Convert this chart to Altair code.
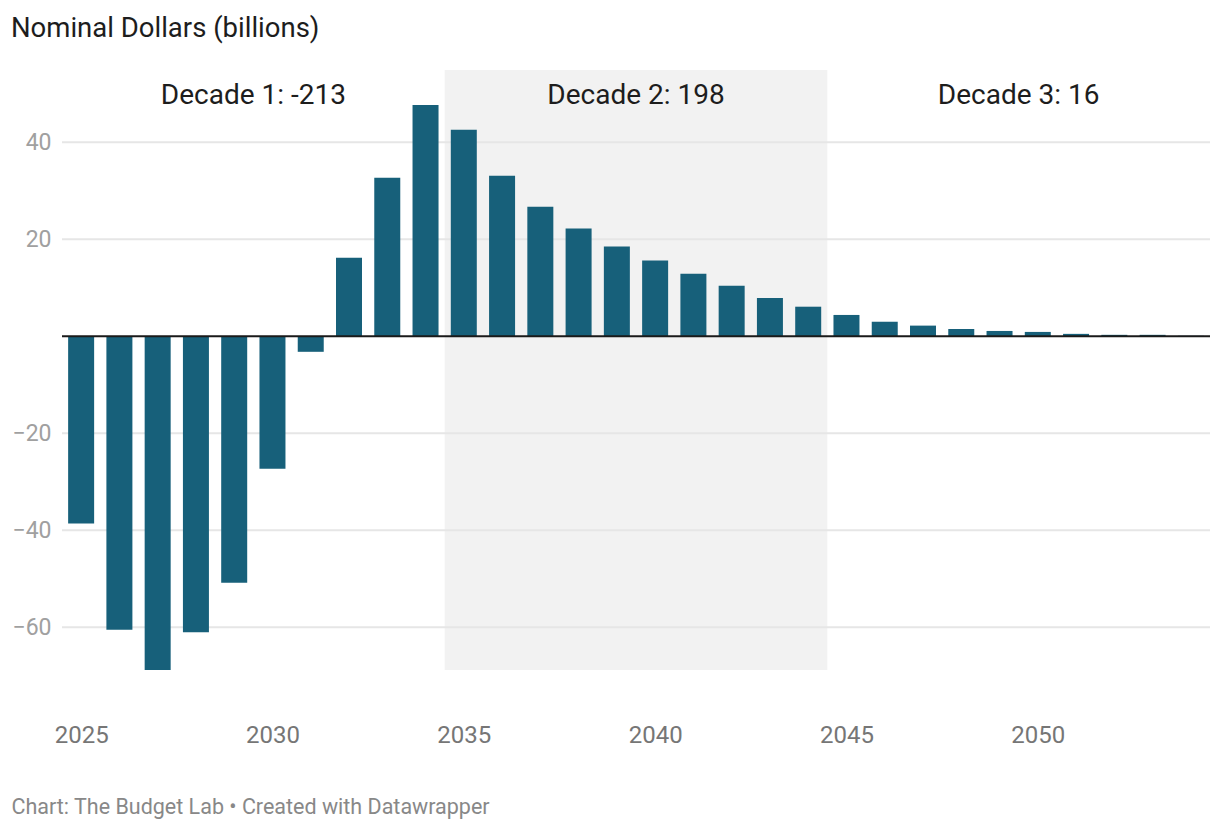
import altair as alt
import pandas as pd

years = list(range(2025, 2055))
values = [-38.6, -60.5, -68.8, -61.0, -50.8, -27.3, -3.2, 16.2, 32.7, 47.7,
          42.6, 33.1, 26.7, 22.2, 18.5, 15.6, 12.9, 10.4, 7.9, 6.1,
          4.4, 3.0, 2.2, 1.5, 1.1, 0.9, 0.5, 0.3, 0.3, 0.1]

decade_labels = ["Decade 1: -213", "Decade 2: 198", "Decade 3: 16"]
decade_start = [2025, 2035, 2045]
decade_end = [2034, 2044, 2054]
shaded = [False, True, False]

y_ticks = [-60, -40, -20, 20, 40]
x_ticks = [2025, 2030, 2035, 2040, 2045, 2050]

bars_df = pd.DataFrame({"year": years, "value": values})
dec_df = pd.DataFrame({"label": decade_labels, "start": decade_start,
                       "end": decade_end, "shaded": shaded})

FONT = "Roboto"
BAR = "#17607a"

xscale = alt.Scale(domain=[2024.5, 2054.5], nice=False, zero=False, padding=0)
yscale = alt.Scale(domain=[-68.8, 54.9], nice=False, zero=False, padding=0)

base_dec = alt.Chart(dec_df).transform_calculate(
    x0="datum.start - 0.5", x1="datum.end + 0.5", mid="(datum.start + datum.end) / 2"
)

shade = base_dec.transform_filter("datum.shaded").mark_rect(color="#f2f2f2").encode(
    x=alt.X("x0:Q", scale=xscale,
            axis=alt.Axis(values=x_ticks, format="d", domain=False, ticks=False, grid=False,
                          labelFontSize=24, labelColor="#767676", labelPadding=53, labelFont=FONT,
                          title="Chart: The Budget Lab • Created with Datawrapper",
                          titleFont=FONT, titleFontSize=21.5, titleColor="#888888",
                          titleFontWeight="normal", titleAnchor="start", titleAlign="left",
                          titleX=-51, titleY=137, titleBaseline="middle")),
    x2="x1:Q",
)

grid = alt.Chart(pd.DataFrame({"t": y_ticks})).mark_rule(color="#e6e6e6", strokeWidth=2).encode(
    y=alt.Y("t:Q", scale=yscale)
)

bars = alt.Chart(bars_df).mark_bar(color=BAR, size=26).encode(
    x=alt.X("year:Q", scale=xscale),
    y=alt.Y("value:Q", scale=yscale,
            axis=alt.Axis(values=y_ticks, domain=False, ticks=False, grid=False,
                          labelFontSize=23, labelColor="#a0a0a0", labelPadding=11, labelFont=FONT,
                          labelExpr="datum.value < 0 ? '\u2212' + format(-datum.value, 'd') : format(datum.value, 'd')",
                          title=None)),
)

zero = alt.Chart(pd.DataFrame({"z": [0]})).mark_rule(color="#1a1a1a", strokeWidth=2).encode(
    y=alt.Y("z:Q", scale=yscale)
)

labels = base_dec.mark_text(font=FONT, fontSize=28, color="#1d1d1d", baseline="alphabetic",
                            align="center").encode(
    x=alt.X("mid:Q", scale=xscale),
    y=alt.value(34),
    text="label:N",
)

chart = alt.layer(shade, grid, bars, zero, labels).properties(
    width=1148, height=600,
    autosize=alt.AutoSizeParams(type="none"),
    padding={"left": 54, "top": 62, "right": 2, "bottom": 156},
    title=alt.TitleParams("Nominal Dollars (billions)", font=FONT, fontSize=27.5, color="#1d1d1d",
                          fontWeight="normal", anchor="start", dx=0, offset=6,
                          baseline="alphabetic"),
).configure_view(stroke=None, strokeWidth=0)

chart.save("out.html", embed_options={"renderer": "svg", "actions": False})
